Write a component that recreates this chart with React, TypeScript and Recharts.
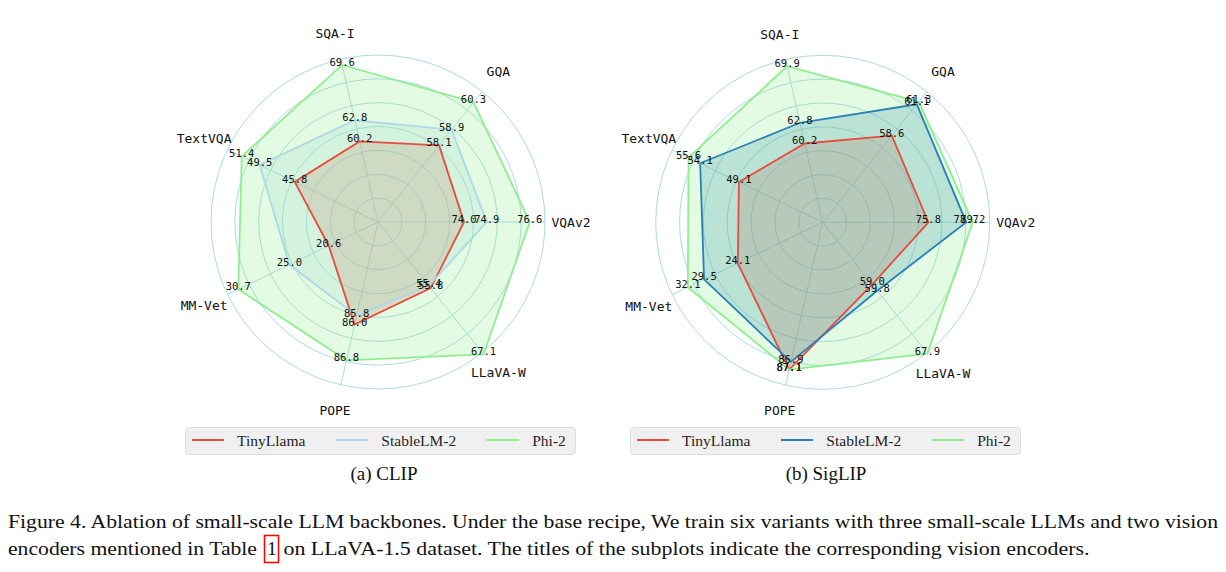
import React from 'react';
import { RadarChart, Radar, PolarGrid, PolarAngleAxis, PolarRadiusAxis } from 'recharts';

// ---- data ----
const axes = ['VQAv2', 'GQA', 'SQA-I', 'TextVQA', 'MM-Vet', 'POPE', 'LLaVA-W'];
const seriesNames = ['TinyLlama', 'StableLM-2', 'Phi-2'];

// (a) CLIP
const clipTinyLlama = [74.0, 58.1, 60.2, 45.8, 20.6, 86.0, 55.8];
const clipStableLM2 = [74.9, 58.9, 62.8, 49.5, 25.0, 85.8, 55.4];
const clipPhi2 = [76.6, 60.3, 69.6, 51.4, 30.7, 86.8, 67.1];
// (b) SigLIP
const siglipTinyLlama = [75.8, 58.6, 60.2, 49.1, 24.1, 87.1, 59.0];
const siglipStableLM2 = [78.7, 61.1, 62.8, 54.1, 29.5, 86.9, 59.8];
const siglipPhi2 = [79.2, 61.3, 69.9, 55.6, 32.1, 87.1, 67.9];

// per-axis radial ranges (centre -> outer ring) for each subplot
const clipAxisMin = [70.6, 54.2, 50.3, 37.0, 15.1, 83.7, 44.5];
const clipAxisMax = [77.2, 60.85, 70.3, 52.9, 31.9, 87.35, 66.8];
const siglipAxisMin = [67.7, 51.7, 50.3, 38.3, 10.5, 83.3, 51.0];
const siglipAxisMax = [80.5, 62.1, 70.75, 57.7, 34.6, 87.5, 67.8];

const clipColors = ['#e74c3c', '#add8e6', '#90ee90'];
const siglipColors = ['#e74c3c', '#2980b9', '#90ee90'];

const R = 167;
const LABEL_R = 193;
const RINGS = 7;
const MONO = '"DejaVu Sans Mono", monospace';
const SERIF = '"Liberation Serif", "Times New Roman", serif';

const makeTick = (cx: number, cy: number) => (props: any) => {
  const { x, y, payload } = props;
  const dx = x - cx;
  const dy = y - cy;
  const n = Math.sqrt(dx * dx + dy * dy) || 1;
  return (
    <text
      x={cx + (dx / n) * LABEL_R}
      y={cy + (dy / n) * LABEL_R}
      textAnchor="middle"
      dominantBaseline="central"
      fontFamily={MONO}
      fontSize={13}
      fill="#111"
    >
      {payload.value}
    </text>
  );
};

const makeValueLabel = (s: number) => (props: any) => {
  const { cx, cy, index, payload } = props;
  const row = payload && payload.payload ? payload.payload : payload;
  const v = row ? row[`v${s}`] : undefined;
  return (
    <text
      key={`v-${s}-${index}`}
      x={cx}
      y={cy - 3}
      textAnchor="middle"
      dominantBaseline="central"
      fontFamily={MONO}
      fontSize={10.5}
      fill="#111"
    >
      {typeof v === 'number' ? v.toFixed(1) : ''}
    </text>
  );
};

function Panel(props: {
  values: number[][];
  mins: number[];
  maxs: number[];
  colors: string[];
  cx: number;
  cy: number;
  left: number;
  width: number;
}) {
  const { values, mins, maxs, colors, cx, cy, left, width } = props;
  // Recharts walks the categories clockwise from startAngle; the figure runs
  // counter-clockwise from VQAv2, so walk the axes in reverse after the first.
  const data = axes.map((_, k) => {
    const i = (axes.length - k) % axes.length;
    const row: Record<string, any> = { axis: axes[i] };
    values.forEach((vals, s) => {
      row[`s${s}`] = (vals[i] - mins[i]) / (maxs[i] - mins[i]);
      row[`v${s}`] = vals[i];
    });
    return row;
  });
  const rings = Array.from({ length: RINGS }, (_, k) => ((k + 1) * R) / RINGS);
  return (
    <div style={{ position: 'absolute', left, top: 0 }}>
      <RadarChart
        width={width}
        height={420}
        data={data}
        cx={cx}
        cy={cy}
        innerRadius={0}
        outerRadius={R}
        startAngle={0}
        endAngle={-360}
        margin={{ top: 0, right: 0, bottom: 0, left: 0 }}
      >
        <PolarGrid gridType="circle" polarRadius={rings} stroke="#add8e6" strokeWidth={1} />
        <PolarAngleAxis dataKey="axis" tick={makeTick(cx, cy)} tickLine={false} axisLine={false} />
        <PolarRadiusAxis domain={[0, 1]} type="number" allowDataOverflow tick={false} axisLine={false} />
        {values.map((_, s) => (
          <Radar
            key={`f${s}`}
            dataKey={`s${s}`}
            stroke="none"
            fill={colors[s]}
            fillOpacity={0.25}
            isAnimationActive={false}
            dot={false}
          />
        ))}
        {values.map((_, s) => (
          <Radar
            key={`r${s}`}
            dataKey={`s${s}`}
            stroke={colors[s]}
            strokeWidth={1.8}
            fill="none"
            isAnimationActive={false}
            dot={false}
          />
        ))}
        {values.map((_, s) => (
          <Radar
            key={`l${s}`}
            dataKey={`s${s}`}
            stroke="none"
            fill="none"
            isAnimationActive={false}
            dot={makeValueLabel(s)}
          />
        ))}
      </RadarChart>
    </div>
  );
}

function LegendBox({ left, colors }: { left: number; colors: string[] }) {
  return (
    <div
      style={{
        position: 'absolute',
        left,
        top: 427,
        width: 391,
        height: 28,
        background: '#f0f0f0',
        border: '1px solid #dddddd',
        borderRadius: 4,
        boxSizing: 'border-box',
        display: 'flex',
        alignItems: 'center',
        paddingLeft: 6,
        fontFamily: SERIF,
        fontSize: 15.5,
        color: '#262626',
        whiteSpace: 'nowrap',
      }}
    >
      {seriesNames.map((n, i) => (
        <div key={n} style={{ display: 'flex', alignItems: 'center', marginRight: 31, flexShrink: 0 }}>
          <div style={{ width: 32, height: 2, background: colors[i], marginRight: 13, marginTop: -2, flexShrink: 0 }} />
          <span>{n}</span>
        </div>
      ))}
    </div>
  );
}

function Subtitle({ center, text }: { center: number; text: string }) {
  return (
    <div
      style={{
        position: 'absolute',
        left: center - 100,
        width: 200,
        top: 462,
        textAlign: 'center',
        fontFamily: SERIF,
        fontSize: 19,
        color: '#111',
        lineHeight: '24px',
      }}
    >
      {text}
    </div>
  );
}

export default function App() {
  return (
    <div style={{ position: 'absolute', left: 0, top: 0, width: 1226, height: 572, background: '#fff', overflow: 'hidden' }}>
      <Panel
        values={[clipTinyLlama, clipStableLM2, clipPhi2]}
        mins={clipAxisMin}
        maxs={clipAxisMax}
        colors={clipColors}
        cx={378}
        cy={222}
        left={0}
        width={600}
      />
      <Panel
        values={[siglipTinyLlama, siglipStableLM2, siglipPhi2]}
        mins={siglipAxisMin}
        maxs={siglipAxisMax}
        colors={siglipColors}
        cx={222.7}
        cy={222.3}
        left={600}
        width={626}
      />
      <LegendBox left={185} colors={clipColors} />
      <LegendBox left={630} colors={siglipColors} />
      <Subtitle center={384} text="(a) CLIP" />
      <Subtitle center={826} text="(b) SigLIP" />
      <svg style={{ position: 'absolute', left: 0, top: 500 }} width={1226} height={72}>
        <g fontFamily={SERIF} fontSize={19.5} fill="#111">
          <text x={8} y={28} textLength={1210} lengthAdjust="spacingAndGlyphs">
            Figure 4. Ablation of small-scale LLM backbones. Under the base recipe, We train six variants with three small-scale LLMs and two vision
          </text>
          <text x={8} y={55} textLength={249} lengthAdjust="spacingAndGlyphs">
            encoders mentioned in Table
          </text>
          <text x={267} y={55}>1</text>
          <rect x={264.5} y={35.5} width={14} height={27} fill="none" stroke="#ff0000" strokeWidth={1.5} />
          <text x={283.5} y={55} textLength={806} lengthAdjust="spacingAndGlyphs">
            on LLaVA-1.5 dataset. The titles of the subplots indicate the corresponding vision encoders.
          </text>
        </g>
      </svg>
    </div>
  );
}
